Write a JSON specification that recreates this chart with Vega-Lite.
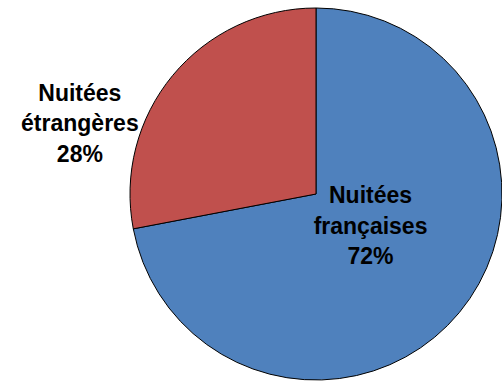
{
  "$schema": "https://vega.github.io/schema/vega-lite/v6.json",
  "width": 372,
  "height": 372,
  "autosize": {"type": "none"},
  "padding": {"left": 130, "top": 8, "right": 0, "bottom": 1},
  "background": "white",
  "config": {"view": {"stroke": null}},
  "data": {
    "values": [
      {"categorie": "Nuitées françaises", "label": "Nuitées\nfrançaises\n72%", "valeur": 72},
      {"categorie": "Nuitées étrangères", "label": "Nuitées\nétrangères\n28%", "valeur": 28}
    ]
  },
  "encoding": {
    "theta": {"field": "valeur", "type": "quantitative", "stack": true},
    "order": {"field": "valeur", "type": "quantitative", "sort": "descending"}
  },
  "layer": [
    {
      "mark": {"type": "arc", "stroke": "black", "strokeWidth": 1},
      "encoding": {
        "color": {
          "field": "categorie",
          "type": "nominal",
          "scale": {"domain": ["Nuitées françaises", "Nuitées étrangères"], "range": ["#4F81BD", "#C0504D"]},
          "legend": null
        }
      }
    },
    {
      "mark": {"type": "text", "radius": 63, "dx": 6, "dy": -38, "font": "Liberation Sans", "fontWeight": "bold", "fontSize": 23, "lineBreak": "\n", "lineHeight": 30.5, "align": "center", "baseline": "middle", "color": "black"},
      "encoding": {"text": {"condition": {"test": "datum.valeur == 72", "field": "label"}, "value": ""}}
    },
    {
      "mark": {"type": "text", "radius": 226, "dx": -62, "dy": 44, "font": "Liberation Sans", "fontWeight": "bold", "fontSize": 23, "lineBreak": "\n", "lineHeight": 30.5, "align": "center", "baseline": "middle", "color": "black"},
      "encoding": {"text": {"condition": {"test": "datum.valeur == 28", "field": "label"}, "value": ""}}
    }
  ]
}
